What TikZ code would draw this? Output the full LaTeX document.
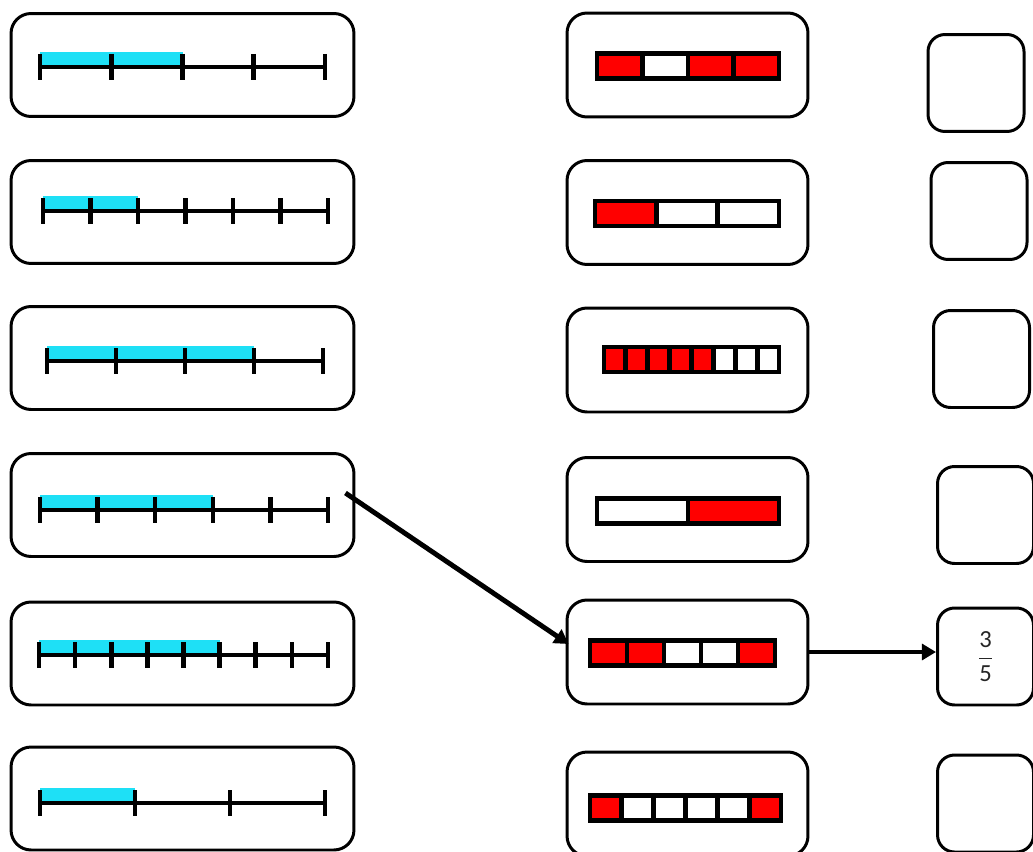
\documentclass[tikz,border=0pt]{standalone}
\usepackage{fontspec}
\newfontfamily\fracfont{Carlito}
\usetikzlibrary{
  calc
  , arrows.meta
}
\definecolor{lineblue}{RGB}{30,224,246}
\definecolor{barred}{RGB}{255,0,0}

\tikzset{
  lbox/.style={draw, rounded corners=0.4cm, line width=1.7pt,
    minimum width=6.86cm, minimum height=2.06cm, inner sep=0pt},
  mbox/.style={draw, rounded corners=0.4cm, line width=1.7pt,
    minimum width=4.82cm, minimum height=2.08cm, inner sep=0pt},
  rbox/.style={draw, rounded corners=0.34cm, line width=1.7pt,
    minimum width=1.92cm, minimum height=1.94cm, inner sep=0pt},
  match/.style={line width=2.8pt, -{Triangle[length=8pt,width=9pt]}}
}

\begin{document}
\begin{tikzpicture}[x=0.02cm, y=-0.02cm]
  \useasboundingbox (0,0) rectangle (1033,851);

  % number line boxes
  \node [lbox] (L1) at (182.5,65) {};
  \node [lbox] (L2) at (182.5,212) {};
  \node [lbox] (L3) at (182.5,358) {};
  \node [lbox] (L4) at (182.5,505) {};
  \node [lbox] (L5) at (182.5,653.5) {};
  \node [lbox] (L6) at (182.5,798.5) {};

  % strip boxes
  \node [mbox] (M1) at (687.5,65) {};
  \node [mbox] (M2) at (687.5,212.5) {};
  \node [mbox] (M3) at (687.5,360) {};
  \node [mbox] (M4) at (687.5,509.5) {};
  \node [mbox] (M5) at (687.5,652) {};
  \node [mbox] (M6) at (687.5,804) {};

  % answer boxes
  \node [rbox] (R1) at (976,83) {};
  \node [rbox] (R2) at (979,211) {};
  \node [rbox] (R3) at (981.5,359) {};
  \node [rbox] (R4) at (985.5,515) {};
  \node [rbox, font=\fracfont\fontsize{14}{16}\selectfont, text=black!85]
    (R5) at (985.5,656.5) {$\displaystyle\frac{\mbox{3}}{\mbox{5}}$};
  \node [rbox] (R6) at (985.5,803.5) {};

  % number lines: y / start / end / parts / shaded
  \foreach \y/\xa/\xb/\n/\k in {67/40/325/4/2, 211/43/328/6/2,
      361/47/323/4/3, 510/40/328/5/3, 655/39/328/8/5, 803/40/325/3/1}{
    \fill [lineblue] (\xa,\y-15) rectangle ({\xa+(\xb-\xa)*\k/\n},\y);
    \draw [line width=2pt] (\xa,\y) -- (\xb,\y);
    \foreach \i in {0,...,\n}
      \draw [line width=2.6pt] ({\xa+(\xb-\xa)*\i/\n},\y-13) -- ++(0,26);
  }

  % strips: y / start / end / parts / colours
  \foreach \y/\xa/\xb/\n/\cols in {
      66/597/779/4/{barred,white,barred,barred},
      213.5/595/779/3/{barred,white,white},
      359.5/604/779/8/{barred,barred,barred,barred,barred,white,white,white},
      511/597/779/2/{white,barred},
      653/590/775/5/{barred,barred,white,white,barred},
      808/590/781/6/{barred,white,white,white,white,barred}}{
    \foreach \c [count=\i from 0] in \cols
      \draw [line width=2.8pt, fill=\c]
        ({\xa+(\xb-\xa)*\i/\n},\y-12.5) rectangle ({\xa+(\xb-\xa)*(\i+1)/\n},\y+12.5);
  }

  % matched pair
  \draw [match] ($(L4.east)+(-10,-12)$) -- ($(M5.west)+(3,-8)$);
  \draw [match] (M5.east) -- (M5.east -| R5.west);
\end{tikzpicture}
\end{document}
